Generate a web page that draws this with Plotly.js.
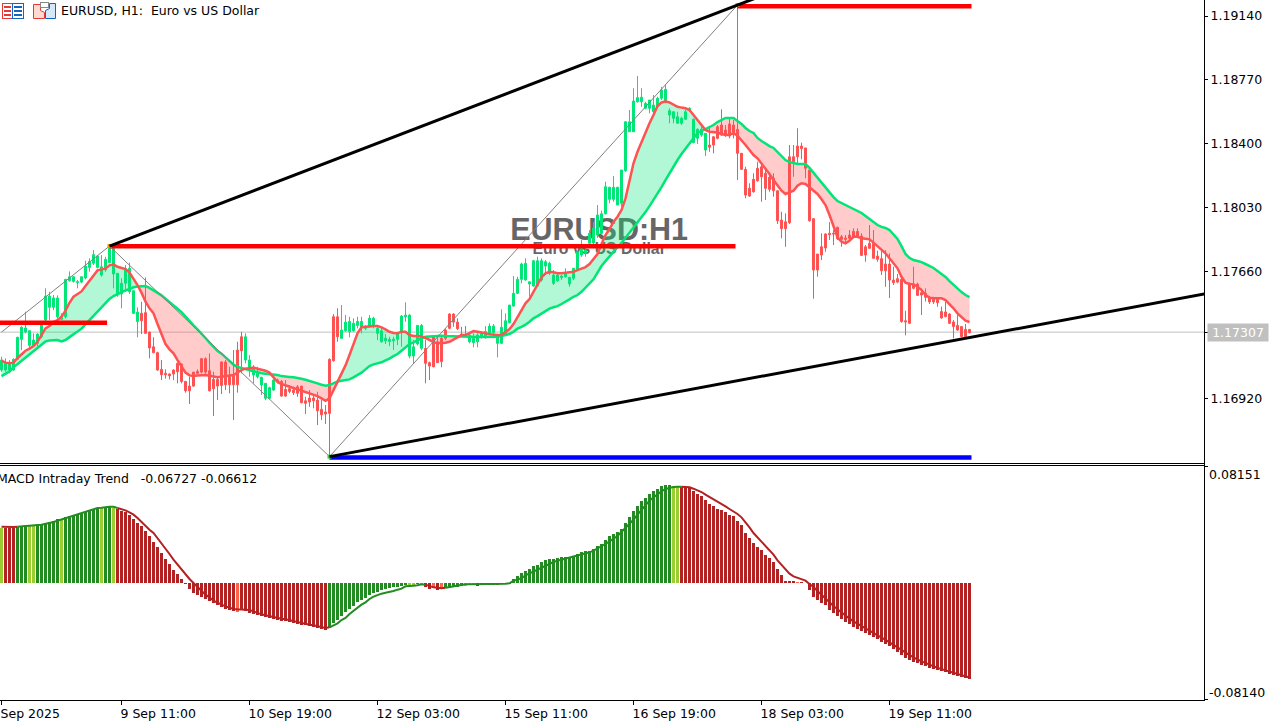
<!DOCTYPE html>
<html>
<head>
<meta charset="utf-8">
<script src="https://cdn.plot.ly/plotly-3.0.1.min.js"></script>
<style>html,body{margin:0;padding:0;background:#fff;overflow:hidden}#chart{width:1281px;height:726px}</style>
</head>
<body>
<div id="chart"></div>
<script>
// All prices are in points (1 point = 0.00001). One entry per H1 bar.
const bodyTop = [
117145,117126,117126,117149,117277,117335,117331,117315,117261,117296,
117354,117516,117516,117505,117505,117400,117613,117628,117628,117599,
117628,117690,117717,117756,117748,117686,117729,117793,117793,117648,
117590,117675,117677,117547,117423,117416,117420,117307,117222,117188,
117091,117068,117064,117087,117126,117122,117021,116994,117075,117079,
117153,117153,117083,117033,117033,117134,117134,117056,117052,117203,
117280,117280,117145,117097,117068,117045,117010,116985,117029,117029,
117021,116975,116979,116971,116990,116994,116909,116925,116925,116913,
116859,116844,117149,117396,117396,117319,117365,117369,117358,117369,
117369,117338,117387,117387,117329,117315,117271,117265,117265,117300,
117400,117406,117406,117222,117346,117346,117213,117130,117280,117251,
117271,117319,117412,117412,117365,117296,117292,117290,117271,117290,
117300,117311,117342,117342,117290,117335,117373,117464,117532,117613,
117702,117706,117599,117721,117721,117721,117715,117706,117638,117638,
117632,117648,117624,117677,117773,117793,117783,117880,117911,117986,
117993,118150,118147,118147,118147,118247,118527,118527,118647,118667,
118669,118634,118653,118624,118663,118711,118715,118591,118585,118556,
118547,118585,118605,118541,118483,118483,118460,118392,118440,118498,
118508,118479,118514,118508,118483,118344,118251,118141,118193,118257,
118266,118228,118205,118199,118127,117957,117947,118324,118324,118386,
118386,118375,118247,117965,117760,117802,117876,117880,117880,117915,
117860,117853,117870,117891,117891,117864,117802,117822,117822,117748,
117733,117702,117702,117609,117617,117613,117373,117590,117586,117586,
117536,117532,117509,117497,117497,117426,117424,117412,117366,117346,
117339,117323,117323];
const bodyBottom = [
117087,117087,117087,117087,117149,117265,117307,117230,117230,117242,
117280,117377,117451,117451,117396,117381,117396,117605,117601,117594,
117597,117621,117682,117706,117682,117638,117667,117710,117644,117522,
117528,117590,117541,117416,117369,117373,117300,117215,117188,117087,
117060,117060,117054,117064,117077,117021,116967,116967,116994,117068,
117075,117075,116967,116979,116994,116998,117002,117002,117002,117002,
117199,117145,117097,117058,117048,117000,116923,116923,116971,117021,
116936,116936,116963,116956,116952,116898,116894,116902,116909,116851,
116828,116832,116836,117141,117280,117271,117315,117309,117315,117346,
117335,117329,117338,117348,117300,117251,117257,117253,117257,117265,
117309,117396,117168,117168,117238,117213,117126,117110,117106,117130,
117136,117271,117329,117365,117327,117288,117284,117251,117246,117251,
117277,117273,117300,117304,117242,117242,117290,117362,117458,117532,
117613,117609,117586,117574,117574,117609,117690,117648,117590,117605,
117624,117628,117586,117619,117671,117754,117764,117822,117824,117870,
117880,117993,118077,118077,118044,118054,118243,118469,118469,118643,
118643,118605,118605,118585,118614,118663,118638,118566,118547,118518,
118518,118541,118591,118406,118431,118450,118363,118379,118392,118431,
118450,118446,118444,118460,118344,118251,118102,118096,118121,118185,
118208,118141,118135,118127,117953,117907,117907,117942,118295,118324,
118371,118257,117953,117667,117667,117754,117795,117872,117876,117849,
117845,117845,117851,117860,117860,117752,117754,117793,117735,117729,
117663,117663,117609,117594,117597,117368,117366,117358,117561,117520,
117522,117509,117482,117482,117478,117389,117397,117358,117339,117319,
117281,117281,117304];
const wickHigh = [
117164,117155,117145,117155,117280,117342,117425,117319,117300,117300,
117367,117561,117541,117522,117520,117416,117613,117659,117632,117609,
117628,117721,117735,117783,117754,117754,117744,117806,117793,117648,
117619,117696,117710,117547,117451,117483,117624,117309,117277,117193,
117145,117091,117068,117091,117130,117126,117021,117048,117075,117091,
117157,117161,117184,117077,117048,117136,117145,117106,117203,117251,
117309,117300,117174,117116,117106,117048,117010,116990,117033,117037,
117029,117029,117000,116990,117000,116994,116932,116971,116942,116961,
116913,116884,117155,117412,117445,117464,117406,117396,117387,117396,
117396,117348,117406,117396,117338,117338,117296,117280,117280,117309,
117406,117480,117410,117261,117346,117354,117261,117136,117290,117290,
117280,117329,117416,117416,117387,117338,117342,117300,117300,117300,
117309,117342,117358,117354,117290,117439,117416,117464,117632,117628,
117710,117735,117599,117725,117744,117735,117725,117715,117667,117648,
117638,117677,117628,117677,117773,117841,117793,117899,117945,118044,
118012,118179,118150,118212,118150,118247,118527,118595,118721,118792,
118721,118643,118653,118682,118672,118730,118740,118605,118585,118585,
118556,118595,118611,118547,118489,118498,118460,118498,118440,118508,
118599,118508,118547,118537,119204,118344,118266,118170,118228,118295,
118276,118257,118228,118228,118127,118005,117996,118392,118392,118489,
118406,118375,118247,117965,117760,117880,117880,117945,117899,117918,
117870,117870,117899,117909,117909,117880,117812,117928,117899,117779,
117783,117783,117764,117686,117644,117619,117431,117594,117686,117594,
117561,117561,117512,117512,117503,117455,117484,117416,117377,117406,
117342,117354,117323];
const wickLow = [
117077,117077,117068,117083,117145,117203,117300,117213,117222,117222,
117271,117358,117377,117435,117387,117377,117387,117599,117594,117561,
117590,117613,117657,117696,117677,117628,117657,117706,117561,117512,
117445,117541,117528,117412,117277,117296,117296,117155,117184,117083,
117029,117037,117033,117029,117010,117010,116956,116890,116990,117064,
117068,117056,116963,116820,116913,116948,116971,116952,116797,116956,
117068,117126,117048,117010,117039,116942,116913,116923,116967,117010,
116932,116932,116952,116942,116932,116894,116832,116874,116865,116768,
116797,116774,116585,117136,117251,117271,117309,117277,117309,117329,
117300,117319,117335,117329,117261,117246,117238,117226,117203,117232,
117222,117367,117155,117122,117230,117203,117010,117029,117103,117130,
117103,117261,117323,117338,117319,117284,117280,117242,117219,117219,
117269,117271,117296,117271,117161,117238,117284,117358,117454,117528,
117590,117605,117512,117570,117570,117599,117638,117638,117580,117599,
117609,117624,117570,117609,117667,117744,117744,117822,117806,117853,
117870,117990,118054,118063,118044,118034,118237,118469,118469,118638,
118614,118599,118576,118580,118610,118653,118634,118518,118518,118514,
118508,118537,118585,118402,118398,118440,118328,118353,118344,118425,
118446,118440,118431,118431,118189,118247,118083,118092,118116,118179,
118063,118073,118121,118092,117934,117851,117802,117934,118208,118276,
118309,118199,117947,117501,117628,117725,117773,117841,117812,117841,
117802,117822,117845,117857,117857,117748,117715,117791,117735,117715,
117638,117570,117505,117580,117590,117362,117288,117354,117555,117516,
117406,117484,117470,117470,117454,117385,117393,117354,117271,117315,
117277,117277,117300];
// Trend colouring of the candles: [is green, number of bars]
const candleRuns = [[1,35],[0,26],[1,8],[0,16],[1,21],[0,11],[1,60],[0,66]];
const fastMA = [
117141,117130,117126,117130,117157,117176,117199,117211,117226,117251,
117288,117329,117342,117365,117377,117396,117431,117477,117512,117528,
117543,117574,117605,117638,117665,117671,117675,117694,117700,117686,
117681,117673,117652,117619,117580,117536,117483,117445,117416,117354,
117290,117238,117207,117184,117145,117106,117072,117056,117052,117056,
117058,117058,117054,117048,117045,117048,117052,117056,117058,117072,
117087,117095,117099,117101,117095,117089,117083,117072,117045,117018,
117006,116998,116990,116983,116975,116967,116959,116952,116944,116936,
116923,116909,116923,116971,117019,117064,117114,117174,117242,117300,
117335,117338,117340,117342,117342,117335,117323,117309,117302,117300,
117309,117309,117290,117284,117284,117282,117273,117261,117249,117242,
117242,117246,117251,117265,117280,117290,117290,117300,117313,117309,
117306,117300,117294,117290,117290,117290,117309,117325,117354,117393,
117435,117474,117499,117541,117586,117625,117648,117657,117654,117648,
117648,117650,117652,117657,117667,117675,117684,117702,117729,117760,
117818,117870,117905,117946,117976,118015,118083,118179,118286,118353,
118411,118469,118518,118566,118618,118639,118645,118639,118626,118614,
118609,118605,118595,118566,118537,118508,118479,118469,118467,118465,
118456,118450,118452,118460,118446,118421,118392,118363,118334,118315,
118286,118257,118224,118189,118156,118127,118108,118119,118127,118156,
118170,118166,118145,118127,118108,118077,118044,117986,117918,117857,
117831,117822,117837,117860,117860,117851,117849,117845,117826,117806,
117787,117764,117735,117706,117677,117628,117594,117586,117584,117570,
117551,117522,117507,117503,117503,117503,117493,117470,117445,117416,
117393,117373,117366];
const slowMA = [
117052,117066,117079,117103,117122,117143,117161,117180,117199,117219,
117236,117253,117259,117261,117261,117253,117261,117278,117294,117309,
117327,117352,117377,117400,117429,117454,117476,117499,117516,117528,
117541,117549,117557,117567,117572,117574,117574,117563,117549,117532,
117520,117501,117483,117464,117443,117423,117396,117371,117346,117323,
117300,117273,117246,117219,117197,117182,117161,117139,117118,117105,
117099,117093,117087,117077,117072,117068,117066,117064,117062,117058,
117052,117048,117047,117045,117043,117037,117031,117025,117018,117010,
117002,116996,117000,117010,117021,117025,117029,117033,117045,117058,
117072,117091,117110,117120,117126,117132,117143,117153,117168,117180,
117199,117217,117238,117248,117261,117271,117280,117282,117286,117286,
117286,117284,117284,117284,117284,117284,117282,117280,117278,117278,
117277,117277,117278,117280,117280,117284,117290,117296,117309,117327,
117338,117350,117367,117387,117400,117416,117431,117443,117451,117458,
117470,117482,117497,117512,117522,117541,117565,117588,117613,117652,
117690,117719,117748,117777,117800,117824,117853,117882,117911,117940,
117969,118003,118038,118073,118108,118148,118189,118230,118270,118305,
118340,118369,118398,118427,118462,118473,118485,118496,118508,118525,
118537,118549,118549,118549,118531,118514,118491,118473,118462,118433,
118415,118398,118386,118375,118351,118328,118305,118293,118288,118282,
118282,118282,118259,118230,118201,118172,118143,118119,118090,118067,
118056,118044,118032,118021,118009,117998,117980,117963,117945,117928,
117917,117911,117899,117876,117847,117806,117760,117737,117725,117719,
117713,117702,117690,117679,117661,117644,117627,117603,117580,117563,
117539,117522,117510];
const macdHist = [
.03845,.03845,.03845,.03845,.03914,.03961,.03984,.04008,.04031,.04054,
.04101,.04194,.04264,.04357,.0445,.04497,.0459,.04683,.04777,.04846,
.04916,.04986,.05079,.05173,.05243,.05243,.05289,.05336,.05243,.05173,
.0501,.0494,.04777,.04497,.04194,.03961,.03658,.03262,.02866,.02493,
.02097,.01701,.01328,.00932,.00629,.00303,-.0007,-.00396,-.00699,-.00862,
-.00979,-.01095,-.01235,-.01398,-.01515,-.01678,-.01794,-.01887,-.01981,-.0205,
-.01911,-.01981,-.02097,-.02167,-.02214,-.0233,-.024,-.02447,-.0254,-.02563,
-.02633,-.0268,-.02749,-.02796,-.02843,-.02913,-.02959,-.03029,-.03076,-.03146,
-.03192,-.03309,-.0315,-.02819,-.02586,-.02307,-.0205,-.01841,-.01584,-.01351,
-.01188,-.01049,-.00839,-.00676,-.00606,-.00489,-.00419,-.00373,-.00303,-.00256,
-.0021,-.0014,-.00117,-.00117,-.0007,-.0007,-.00256,-.00396,-.00256,-.00489,
-.00443,-.00373,-.00326,-.00256,-.00256,-.0021,-.00186,-.00117,-.00093,-.00186,
-.00163,-.00163,-.00117,-.00117,-.00163,-.00093,-.0007,-.0007,.00303,.00466,
.00699,.00862,.01002,.01212,.01282,.01468,.01631,.01701,.01678,.01724,
.01817,.01841,.01841,.01911,.0205,.02144,.02214,.0226,.024,.0261,
.02749,.03029,.03262,.03448,.03542,.03798,.04194,.0459,.0501,.05406,
.05755,.05942,.06221,.06408,.06571,.06804,.06874,.06874,.06804,.06687,
.06687,.06687,.06641,.06408,.06244,.06058,.05778,.05545,.05359,.05196,
.05079,.0494,.04777,.0466,.04357,.04031,.03495,.03146,.02796,.02516,
.0233,.0198,.01748,.01445,.01002,.00583,.00163,.00163,.0014,.00093,
.00047,.0002,-.00466,-.01002,-.01165,-.01398,-.01538,-.01887,-.02097,-.02307,
-.02516,-.02726,-.02866,-.03076,-.03215,-.03355,-.03495,-.03635,-.03775,-.03914,
-.04124,-.04264,-.04404,-.04613,-.04823,-.05033,-.05243,-.05382,-.05522,-.05592,
-.05732,-.05802,-.05942,-.06012,-.06081,-.06151,-.06221,-.06361,-.06431,-.06501,
-.06571,-.06641,-.06727];
const macdSignal = [
.03938,.03914,.03914,.03914,.03938,.03984,.03984,.04008,.04008,.04054,
.04078,.04124,.04194,.04264,.04357,.0445,.04497,.0459,.0473,.04823,
.04893,.04963,.05056,.05149,.05243,.05266,.05312,.05336,.05336,.05243,
.05173,.05079,.0494,.04777,.04544,.04264,.03961,.03728,.03495,.03146,
.02796,.02447,.02027,.01631,.01282,.00932,.00583,.0028,0,-.0028,
-.00583,-.00816,-.01002,-.01235,-.01375,-.01515,-.01631,-.01724,-.01817,-.01841,
-.01841,-.01864,-.01887,-.01981,-.02097,-.0219,-.0226,-.0233,-.02377,-.02447,
-.02493,-.0254,-.0261,-.0268,-.02726,-.02796,-.02843,-.02913,-.02959,-.03006,
-.03076,-.03146,-.031,-.02982,-.02819,-.02587,-.02446,-.02167,-.01934,-.01701,
-.01515,-.01351,-.01118,-.00955,-.00839,-.00745,-.00676,-.00629,-.0056,-.00466,
-.00396,-.00233,-.00186,-.00186,-.00163,-.00093,-.00117,-.0021,-.00303,-.00326,
-.00373,-.00326,-.0028,-.0021,-.00163,-.00117,-.00093,-.00093,-.00093,-.00093,
-.00093,-.00093,-.0007,-.0007,-.0007,-.0007,-.00047,-.00023,.00163,.00233,
.0035,.00536,.00676,.00816,.00955,.01095,.01235,.01375,.01468,.01561,
.01631,.01701,.01771,.01817,.01887,.01957,.0205,.02144,.0226,.024,
.0254,.02726,.02913,.03099,.03285,.03565,.03845,.04194,.04427,.04777,
.05126,.05476,.05755,.05988,.06221,.06408,.06571,.06664,.0671,.06734,
.06734,.0671,.06687,.06594,.06501,.06361,.06175,.06011,.05895,.05709,
.05522,.05359,.05173,.0501,.04823,.0459,.04264,.03891,.03495,.03192,
.02866,.02563,.02283,.0198,.01584,.01282,.00932,.00652,.00466,.0035,
.0028,.00163,-.0007,-.0028,-.0056,-.00839,-.01118,-.01375,-.01608,-.0184,
-.02073,-.02283,-.02493,-.0268,-.0285,-.0303,-.03195,-.0335,-.035,-.03655,
-.0382,-.0398,-.0414,-.0431,-.0449,-.0468,-.0487,-.0505,-.0521,-.0535,
-.0548,-.056,-.0572,-.0583,-.0593,-.0602,-.0611,-.062,-.063,-.0638,
-.0646,-.0654,-.06612];
const histRuns = [['Y',1],['R',3],['G',3],['Y',2],['G',6],['Y',1],['G',9],['Y',1],['G',2],['Y',1],
  ['R',30],['T',1],['R',22],['G',20],['Y',2],['G',1],['Y',1],['R',2],['T',1],['R',1],['T',1],
  ['G',5],['Y',3],['R',2],['G',3],['R',1],['G',43],['Y',2],['R',29],['T',1],['R',43]];
const signalRuns = [['R',4],['G',25],['R',53],['G',24],['R',5],['G',59],['R',73]];
// Zigzag swing points and levels (bar index, points)
const zigzagBars = [0,27,82,184];
const zigzagPoints = [117307,117806,116585,119204];
const trendABars = [27,200], trendAPoints = [117806,119346];
const trendBBars = [82,301], trendBPoints = [116585,117530];
const redLevelStart = [-1,27,184], redLevelEnd = [26.4,183.5,242.5], redLevelPoints = [117362,117805,119197];
const blueLevelStart = 82, blueLevelEnd = 242.5, blueLevelPoint = 116580;
const lastPrice = 1.17307;
const priceTicks = [1.1914,1.1877,1.184,1.1803,1.1766,1.1692];
const timeTickBars = [0,30,62,94,126,158,190,222];
const timeTickText = ['Sep 2025','9 Sep 11:00','10 Sep 19:00','12 Sep 03:00','15 Sep 11:00','16 Sep 19:00','18 Sep 03:00','19 Sep 11:00'];

const UP='#00E676', DOWN='#FF5252';
const HIST={G:'#228B22',Y:'#9ACD32',R:'#B22222',T:'#FF6347'};
const FONT='"DejaVu Sans", sans-serif';
const px=p=>p/1e5;
const N=bodyTop.length, bars=Array.from({length:N},(_,i)=>i);
const expand=runs=>runs.flatMap(([c,n])=>Array(n).fill(c));
const candleUp=expand(candleRuns);
const open=bars.map(i=>px(candleUp[i]?bodyBottom[i]:bodyTop[i]));
const close=bars.map(i=>px(candleUp[i]?bodyTop[i]:bodyBottom[i]));

const traces=[];
// --- base layer (under the candles): watermark, last-price line, MA band
traces.push({type:'scatter',mode:'text',x:[149.4,149.4],y:[1.17884,1.17783],yaxis:'y3',
  text:['EURUSD:H1','Euro vs US Dollar'],textposition:'middle center',
  textfont:{family:'"Liberation Sans", Arial, sans-serif',size:[30.5,15.8],color:'#666666',weight:700},
  hoverinfo:'skip',showlegend:false});
traces.push({type:'scatter',mode:'lines',x:[-1,301],y:[lastPrice,lastPrice],yaxis:'y3',
  line:{color:'#C0C0C0',width:1},hoverinfo:'skip',showlegend:false});
(function(){
  let cur=null;const segs=[];
  for(let i=0;i<N;i++){
    const up=fastMA[i]>=slowMA[i];
    if(cur&&cur.up!==up){
      const d0=fastMA[i-1]-slowMA[i-1],d1=fastMA[i]-slowMA[i],t=d0/(d0-d1);
      const xc=i-1+t,yc=fastMA[i-1]+t*(fastMA[i]-fastMA[i-1]);
      cur.x.push(xc);cur.f.push(yc);cur.s.push(yc);segs.push(cur);
      cur={up,x:[xc],f:[yc],s:[yc]};
    }
    if(!cur)cur={up,x:[],f:[],s:[]};
    cur.x.push(i);cur.f.push(fastMA[i]);cur.s.push(slowMA[i]);
  }
  segs.push(cur);
  segs.forEach(s=>traces.push({type:'scatter',mode:'lines',yaxis:'y3',
    x:s.x.concat(s.x.slice().reverse()),y:s.f.concat(s.s.slice().reverse()).map(px),
    fill:'toself',fillcolor:s.up?'rgba(0,230,118,0.3)':'rgba(255,82,82,0.3)',
    line:{width:0},hoverinfo:'skip',showlegend:false}));
})();
// --- candles
traces.push({type:'candlestick',x:bars,open,close,high:wickHigh.map(px),low:wickLow.map(px),
  increasing:{line:{color:UP,width:1},fillcolor:UP},decreasing:{line:{color:DOWN,width:1},fillcolor:DOWN},
  whiskerwidth:0,hoverinfo:'skip',showlegend:false});
// --- MA lines
traces.push({type:'scatter',mode:'lines',x:bars,y:slowMA.map(px),line:{color:UP,width:2.5},hoverinfo:'skip',showlegend:false});
traces.push({type:'scatter',mode:'lines',x:bars,y:fastMA.map(px),line:{color:DOWN,width:2.5},hoverinfo:'skip',showlegend:false});
// --- zigzag, levels, trend lines
traces.push({type:'scatter',mode:'lines',x:zigzagBars,y:zigzagPoints.map(px),line:{color:'#808080',width:1},hoverinfo:'skip',showlegend:false});
redLevelPoints.forEach((p,k)=>traces.push({type:'scatter',mode:'lines',x:[redLevelStart[k],redLevelEnd[k]],y:[px(p),px(p)],
  line:{color:'#FF0000',width:4.5},hoverinfo:'skip',showlegend:false}));
traces.push({type:'scatter',mode:'lines',x:[blueLevelStart,blueLevelEnd],y:[px(blueLevelPoint),px(blueLevelPoint)],
  line:{color:'#0000FF',width:4.5},hoverinfo:'skip',showlegend:false});
traces.push({type:'scatter',mode:'markers',x:zigzagBars.slice(1),y:zigzagPoints.slice(1).map(px),
  marker:{symbol:'square',size:4,color:['#FF8C00','#32CD32','#FF8C00']},hoverinfo:'skip',showlegend:false});
traces.push({type:'scatter',mode:'lines',x:trendABars,y:trendAPoints.map(px),line:{color:'#000',width:3},hoverinfo:'skip',showlegend:false});
traces.push({type:'scatter',mode:'lines',x:trendBBars,y:trendBPoints.map(px),line:{color:'#000',width:3},hoverinfo:'skip',showlegend:false});
// --- MACD pane
traces.push({type:'bar',x:bars,y:macdHist,yaxis:'y2',width:0.75,marker:{color:expand(histRuns).map(c=>HIST[c]),line:{width:0}},hoverinfo:'skip',showlegend:false});
(function(){
  let start=0;
  signalRuns.forEach(([c,n])=>{
    const end=Math.min(start+n,N-1);
    const idx=bars.slice(start,end+1);
    traces.push({type:'scatter',mode:'lines',x:idx,y:idx.map(i=>macdSignal[i]),yaxis:'y2',
      line:{color:HIST[c],width:2},hoverinfo:'skip',showlegend:false});
    start+=n;
  });
})();

const W=1204,H=700;
const ax=x=>x/W, ay=y=>(H-y)/H;
const tick={family:FONT,size:12.5,color:'#000'};
const iconA='data:image/svg+xml;utf8,'+encodeURIComponent('<svg xmlns="http://www.w3.org/2000/svg" width="22" height="16"><rect x="0.5" y="0.5" width="10" height="15" fill="#fff" stroke="#e53935"/><rect x="10.5" y="0.5" width="11" height="15" fill="#fff" stroke="#1565c0"/><path d="M2 4h7M2 8h7M2 12h7" stroke="#e53935" stroke-width="2"/><path d="M12 4h8M12 8h8M12 12h8" stroke="#1565c0" stroke-width="2"/></svg>');
const iconB='data:image/svg+xml;utf8,'+encodeURIComponent('<svg xmlns="http://www.w3.org/2000/svg" width="23" height="17"><path d="M0.5 2.5h7v6l4 2v6h-11z" fill="#ffd9d0" stroke="#e53935"/><path d="M12.5 8.5l4-2v-5h6v15h-10z" fill="#d5e8f7" stroke="#1565c0"/><rect x="7.5" y="0.5" width="8" height="5" fill="#fff" stroke="#888"/></svg>');
const layout={
  width:1281,height:726,margin:{l:0,r:77,t:0,b:26,pad:0},
  paper_bgcolor:'#fff',plot_bgcolor:'rgba(0,0,0,0)',showlegend:false,hovermode:false,dragmode:false,
  boxgap:0.3,bargap:0,barmode:'overlay',
  font:{family:FONT,size:12.5,color:'#000'},
  xaxis:{range:[-0.375,300.625],anchor:'y2',showgrid:false,zeroline:false,showline:true,linecolor:'#000',linewidth:1,
    tickmode:'array',tickvals:timeTickBars,ticktext:timeTickText,ticks:'outside',ticklen:4,tickcolor:'#000',
    ticklabelposition:'outside right',ticklabelshift:-2,ticklabelstandoff:2,tickfont:tick,rangeslider:{visible:false},fixedrange:true},
  yaxis3:{domain:[ay(463),1],range:[1.16548,1.19233],visible:false,fixedrange:true},
  yaxis:{domain:[ay(463),1],range:[1.16548,1.19233],overlaying:'y3',side:'right',anchor:'x',showgrid:false,zeroline:false,
    showline:true,linecolor:'#000',linewidth:1,ticks:'outside',ticklen:3,tickcolor:'#000',tickmode:'array',
    tickvals:priceTicks.concat([lastPrice]),ticktext:priceTicks.map(v=>v.toFixed(5)).concat(['']),tickfont:tick,fixedrange:true},
  yaxis2:{domain:[0,ay(465)],range:[-0.0818,0.0825],side:'right',anchor:'x',showgrid:false,zeroline:false,
    showline:true,linecolor:'#000',linewidth:1,ticks:'outside',ticklen:3,tickcolor:'#000',tickmode:'array',
    tickvals:[0.08151,-0.0814],ticktext:['',''],tickfont:tick,fixedrange:true},
  shapes:[
    {type:'line',xref:'paper',yref:'paper',x0:0,x1:1,y0:ay(463.5),y1:ay(463.5),line:{color:'#000',width:1}},
    {type:'line',xref:'paper',yref:'paper',x0:0,x1:1,y0:ay(465.5),y1:ay(465.5),line:{color:'#000',width:1}},
    {type:'line',xref:'paper',yref:'paper',x0:ax(1204.5),x1:ax(1204.5),y0:0,y1:1,line:{color:'#000',width:1}}
  ],
  images:[
    {source:iconA,xref:'paper',yref:'paper',x:ax(2),y:ay(3),sizex:22/W,sizey:16/H,sizing:'stretch',xanchor:'left',yanchor:'top',layer:'above'},
    {source:iconB,xref:'paper',yref:'paper',x:ax(33),y:ay(2),sizex:23/W,sizey:17/H,sizing:'stretch',xanchor:'left',yanchor:'top',layer:'above'}
  ],
  annotations:[
    {text:'EURUSD, H1:  Euro vs US Dollar',xref:'paper',yref:'paper',x:ax(60),y:ay(11),xanchor:'left',yanchor:'middle',showarrow:false,borderpad:0,font:tick},
    {text:'MACD Intraday Trend   -0.06727 -0.06612',xref:'paper',yref:'paper',x:ax(-4),y:ay(478),xanchor:'left',yanchor:'middle',showarrow:false,borderpad:0,font:tick},
    {text:'0.08151',xref:'paper',yref:'paper',x:ax(1208),y:ay(474),xanchor:'left',yanchor:'middle',showarrow:false,borderpad:0,font:tick},
    {text:'-0.08140',xref:'paper',yref:'paper',x:ax(1208),y:ay(692),xanchor:'left',yanchor:'middle',showarrow:false,borderpad:0,font:tick},
    {text:lastPrice.toFixed(5),xref:'paper',yref:'paper',x:ax(1207),y:ay(332.5),xanchor:'left',yanchor:'middle',showarrow:false,
      bgcolor:'#C0C0C0',width:60,height:17,align:'center',borderpad:0,font:{family:FONT,size:12.5,color:'#fff'}}
  ]
};
Plotly.newPlot('chart',traces,layout,{displayModeBar:false,staticPlot:true,responsive:false});
</script>
</body>
</html>
